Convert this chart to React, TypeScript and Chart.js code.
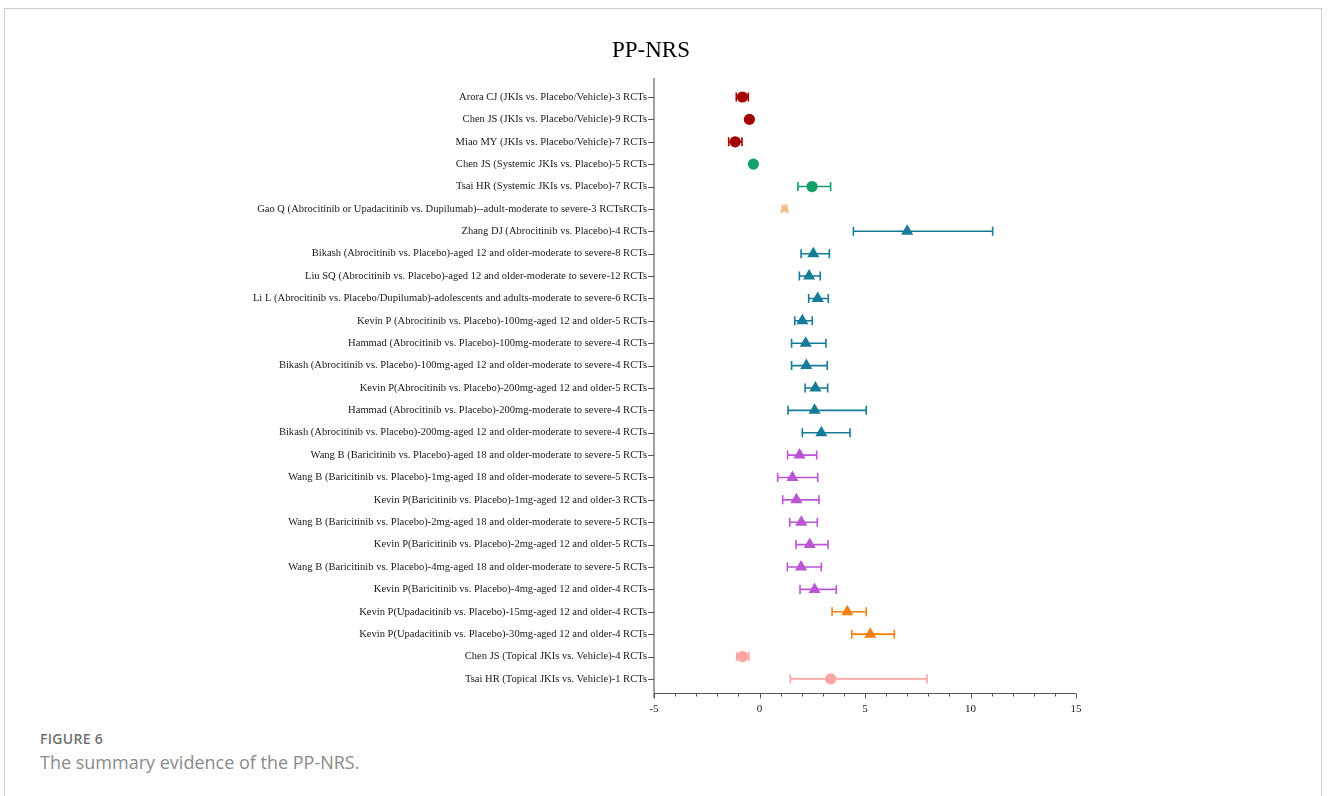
import React, { useEffect, useRef } from "react";
import { Chart, registerables } from "chart.js";

Chart.register(...registerables);

const studyLabels: string[] = [
  "Arora CJ (JKIs vs. Placebo/Vehicle)-3 RCTs",
  "Chen JS (JKIs vs. Placebo/Vehicle)-9 RCTs",
  "Miao MY (JKIs vs. Placebo/Vehicle)-7 RCTs",
  "Chen JS (Systemic JKIs vs. Placebo)-5 RCTs",
  "Tsai HR (Systemic JKIs vs. Placebo)-7 RCTs",
  "Gao Q (Abrocitinib or Upadacitinib vs. Dupilumab)--adult-moderate to severe-3 RCTsRCTs",
  "Zhang DJ (Abrocitinib vs. Placebo)-4 RCTs",
  "Bikash (Abrocitinib vs. Placebo)-aged 12 and older-moderate to severe-8 RCTs",
  "Liu SQ (Abrocitinib vs. Placebo)-aged 12 and older-moderate to severe-12 RCTs",
  "Li L (Abrocitinib vs. Placebo/Dupilumab)-adolescents and adults-moderate to severe-6 RCTs",
  "Kevin P (Abrocitinib vs. Placebo)-100mg-aged 12 and older-5 RCTs",
  "Hammad (Abrocitinib vs. Placebo)-100mg-moderate to severe-4 RCTs",
  "Bikash (Abrocitinib vs. Placebo)-100mg-aged 12 and older-moderate to severe-4 RCTs",
  "Kevin P(Abrocitinib vs. Placebo)-200mg-aged 12 and older-5 RCTs",
  "Hammad (Abrocitinib vs. Placebo)-200mg-moderate to severe-4 RCTs",
  "Bikash (Abrocitinib vs. Placebo)-200mg-aged 12 and older-moderate to severe-4 RCTs",
  "Wang B (Baricitinib vs. Placebo)-aged 18 and older-moderate to severe-5 RCTs",
  "Wang B (Baricitinib vs. Placebo)-1mg-aged 18 and older-moderate to severe-5 RCTs",
  "Kevin P(Baricitinib vs. Placebo)-1mg-aged 12 and older-3 RCTs",
  "Wang B (Baricitinib vs. Placebo)-2mg-aged 18 and older-moderate to severe-5 RCTs",
  "Kevin P(Baricitinib vs. Placebo)-2mg-aged 12 and older-5 RCTs",
  "Wang B (Baricitinib vs. Placebo)-4mg-aged 18 and older-moderate to severe-5 RCTs",
  "Kevin P(Baricitinib vs. Placebo)-4mg-aged 12 and older-4 RCTs",
  "Kevin P(Upadacitinib vs. Placebo)-15mg-aged 12 and older-4 RCTs",
  "Kevin P(Upadacitinib vs. Placebo)-30mg-aged 12 and older-4 RCTs",
  "Chen JS (Topical JKIs vs. Vehicle)-4 RCTs",
  "Tsai HR (Topical JKIs vs. Vehicle)-1 RCTs",
];

const estimates: number[] = [
  -0.81, -0.48, -1.15, -0.29, 2.49, 1.19, 7.0, 2.55, 2.35, 2.76, 2.03, 2.19, 2.22,
  2.65, 2.61, 2.93, 1.9, 1.56, 1.75, 1.98, 2.38, 1.97, 2.61, 4.16, 5.25, -0.8, 3.37,
];
const lowerCI: number[] = [
  -1.1, -0.6, -1.46, -0.4, 1.82, 1.08, 4.45, 1.97, 1.89, 2.33, 1.67, 1.52, 1.52,
  2.16, 1.35, 2.03, 1.33, 0.86, 1.1, 1.43, 1.73, 1.32, 1.92, 3.44, 4.37, -1.08, 1.46,
];
const upperCI: number[] = [
  -0.53, -0.37, -0.83, -0.19, 3.37, 1.3, 11.05, 3.31, 2.88, 3.26, 2.5, 3.15, 3.21,
  3.23, 5.06, 4.29, 2.71, 2.76, 2.82, 2.74, 3.25, 2.93, 3.64, 5.06, 6.39, -0.51, 7.94,
];
// group index per row
const groupOfRow: number[] = [
  0, 0, 0, 1, 1, 2, 3, 3, 3, 3, 3, 3, 3, 3, 3, 3, 4, 4, 4, 4, 4, 4, 4, 5, 5, 6, 6,
];
const groupColors: string[] = ["#A30000", "#12A06B", "#F5BE8A", "#147C96", "#BB55D6", "#FF7F0E", "#FFA3A3"];
const groupShapes: string[] = ["circle", "circle", "triangle", "triangle", "triangle", "triangle", "circle"];
const xTickValues: number[] = [-5, 0, 5, 10, 15];

const SERIF = "'Liberation Serif', 'Times New Roman', serif";

export default function App() {
  const ref = useRef<HTMLCanvasElement | null>(null);

  useEffect(() => {
    if (!ref.current) return;
    const datasets = groupColors.map((color, g) => ({
      label: "g" + g,
      data: estimates
        .map((v, i) => ({ x: v, y: i, g: groupOfRow[i] }))
        .filter((p) => p.g === g)
        .map((p) => ({ x: p.x, y: p.y })),
      backgroundColor: color,
      borderColor: color,
      pointStyle: groupShapes[g] as any,
      pointRadius: groupShapes[g] === "triangle" ? (g === 2 ? 5.5 : 7) : 5.6,
      pointBorderWidth: 0,
      showLine: false,
    }));

    const errorBars = {
      id: "errorBars",
      beforeDatasetsDraw(chart: any) {
        const { ctx } = chart;
        const xs = chart.scales.x;
        const ys = chart.scales.y;
        ctx.save();
        ctx.lineWidth = 1.6;
        for (let i = 0; i < estimates.length; i++) {
          const c = groupColors[groupOfRow[i]];
          const y = ys.getPixelForValue(i);
          const x1 = xs.getPixelForValue(lowerCI[i]);
          const x2 = xs.getPixelForValue(upperCI[i]);
          ctx.strokeStyle = c;
          ctx.beginPath();
          ctx.moveTo(x1, y);
          ctx.lineTo(x2, y);
          ctx.moveTo(x1, y - 4.5);
          ctx.lineTo(x1, y + 4.5);
          ctx.moveTo(x2, y - 4.5);
          ctx.lineTo(x2, y + 4.5);
          ctx.stroke();
        }
        ctx.restore();
      },
      afterDraw(chart: any) {
        const { ctx, chartArea } = chart;
        const xs = chart.scales.x;
        const ys = chart.scales.y;
        ctx.save();
        ctx.strokeStyle = "#8a8a8a";
        ctx.lineWidth = 1.6;
        ctx.beginPath();
        ctx.moveTo(chartArea.left, chartArea.top);
        ctx.lineTo(chartArea.left, chartArea.bottom + 5);
        ctx.stroke();
        ctx.strokeStyle = "#555";
        ctx.lineWidth = 1;
        for (let i = 0; i < studyLabels.length; i++) {
          const y = Math.round(ys.getPixelForValue(i)) + 0.5;
          ctx.beginPath();
          ctx.moveTo(chartArea.left - 6, y);
          ctx.lineTo(chartArea.left, y);
          ctx.stroke();
        }
        const yb = Math.round(chartArea.bottom) + 0.5;
        ctx.beginPath();
        ctx.moveTo(chartArea.left, yb);
        ctx.lineTo(chartArea.right, yb);
        ctx.stroke();
        for (let v = -5; v <= 15; v++) {
          const x = Math.round(xs.getPixelForValue(v)) + 0.5;
          const len = v % 5 === 0 ? 5 : 3;
          ctx.beginPath();
          ctx.moveTo(x, yb);
          ctx.lineTo(x, yb + len);
          ctx.stroke();
        }
        ctx.restore();
      },
    };

    const chart = new Chart(ref.current, {
      type: "scatter",
      data: { datasets: datasets as any },
      options: {
        animation: false,
        responsive: false,
        layout: { padding: { left: 0, right: 226, top: 78, bottom: 0 } },
        plugins: {
          legend: { display: false },
          tooltip: { enabled: false },
          title: { display: false },
        },
        scales: {
          x: {
            type: "linear",
            min: -5,
            max: 15,
            afterBuildTicks: (scale: any) => {
              scale.ticks = xTickValues.map((v) => ({ value: v }));
            },
            afterFit: (scale: any) => {
              scale.height = 27;
            },
            grid: { display: false, drawTicks: false },
            border: { display: false },
            ticks: {
              padding: 10,
              color: "#222",
              font: { family: SERIF, size: 11 },
              maxRotation: 0,
              autoSkip: false,
            },
          },
          y: {
            type: "linear",
            min: -0.85,
            max: 26.63,
            reverse: true,
            afterBuildTicks: (scale: any) => {
              scale.ticks = studyLabels.map((_, i) => ({ value: i }));
            },
            afterFit: (scale: any) => {
              scale.width = 654;
            },
            grid: { display: false, drawTicks: false },
            border: { display: false },
            ticks: {
              padding: 7,
              color: "#1a1a1a",
              autoSkip: false,
              font: { family: SERIF, size: 10.55 },
              callback: (v: any) => studyLabels[Number(v)] ?? "",
            },
          },
        },
      },
      plugins: [errorBars],
    });
    return () => chart.destroy();
  }, []);

  return (
    <div style={{ position: "absolute", left: 0, top: 0, width: 1328, height: 796, overflow: "hidden", background: "#fff" }}>
      <div
        style={{
          position: "absolute",
          left: 4,
          top: 8,
          width: 1318,
          height: 820,
          border: "1px solid #cfcfcf",
          boxSizing: "border-box",
        }}
      />
      <canvas ref={ref} width={1302} height={720} style={{ position: "absolute", left: 0, top: 0 }} />
      <div
        style={{
          position: "absolute",
          left: 551,
          width: 200,
          top: 35,
          height: 30,
          lineHeight: "30px",
          textAlign: "center",
          fontFamily: SERIF,
          fontSize: 23,
          color: "#000",
        }}
      >
        PP-NRS
      </div>
      <div
        style={{
          position: "absolute",
          left: 40,
          top: 729,
          fontFamily: "'Open Sans', sans-serif",
          fontWeight: 600,
          fontSize: 14,
          color: "#707070",
          letterSpacing: 0.3,
        }}
      >
        FIGURE 6
      </div>
      <div
        style={{
          position: "absolute",
          left: 40,
          top: 750,
          fontFamily: "'Open Sans', sans-serif",
          fontSize: 18,
          color: "#8a8a8a",
        }}
      >
        The summary evidence of the PP-NRS.
      </div>
    </div>
  );
}
